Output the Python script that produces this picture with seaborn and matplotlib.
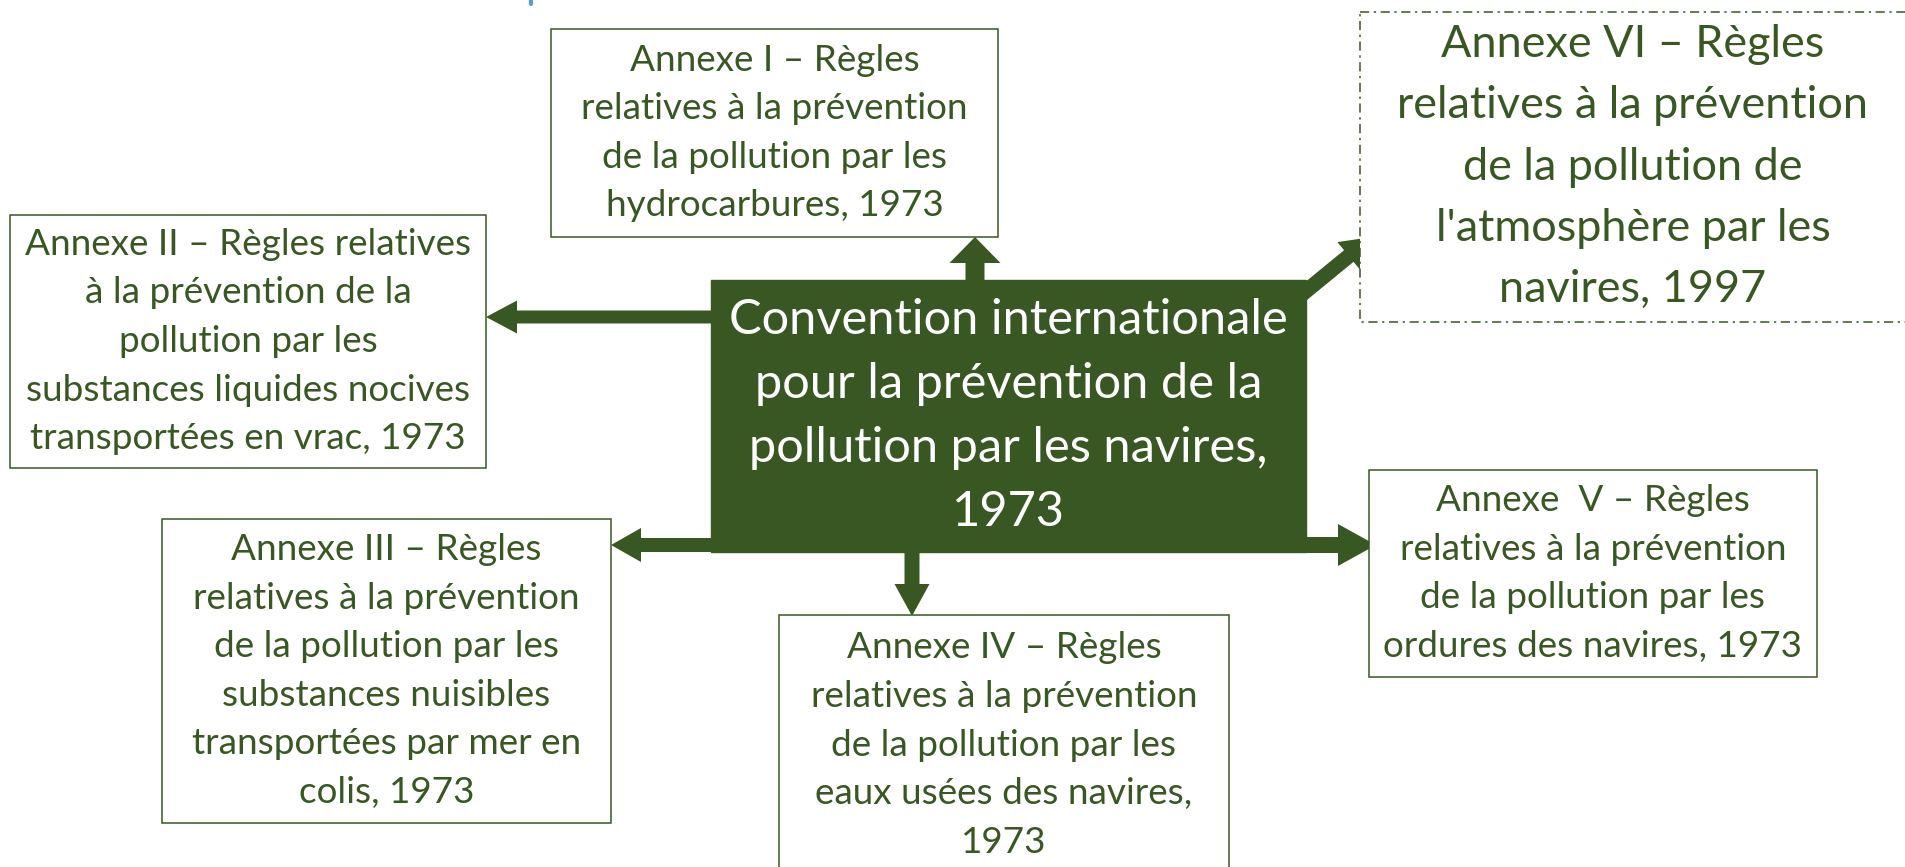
import matplotlib
matplotlib.use("Agg")
import matplotlib.pyplot as plt
import matplotlib.patches as mpatches
import seaborn as sns

# texts of the diagram
center_label = "Convention internationale\npour la prévention de la\npollution par les navires,\n1973"
annex_names = ["I", "II", "III", "IV", "V", "VI"]
annex_labels = [
    "Annexe I – Règles\nrelatives à la prévention\nde la pollution par les\nhydrocarbures, 1973",
    "Annexe II – Règles relatives\nà la prévention de la\npollution par les\nsubstances liquides nocives\ntransportées en vrac, 1973",
    "Annexe III – Règles\nrelatives à la prévention\nde la pollution par les\nsubstances nuisibles\ntransportées par mer en\ncolis, 1973",
    "Annexe IV – Règles\nrelatives à la prévention\nde la pollution par les\neaux usées des navires,\n1973",
    "Annexe  V – Règles\nrelatives à la prévention\nde la pollution par les\nordures des navires, 1973",
    "Annexe VI – Règles\nrelatives à la prévention\nde la pollution de\nl'atmosphère par les\nnavires, 1997",
]

# layout in pixels (x0, y0, x1, y1), y grows downward
center_box = (711, 280, 1306, 552)
annex_boxes = [
    (551, 29, 998, 237),
    (10, 215, 486, 468),
    (162, 519, 611, 823),
    (779, 615, 1229, 875),
    (1369, 470, 1817, 677),
    (1360, 12, 1915, 322),
]
# arrows: tail (x, y), tip (x, y), shaft width, head width, head length
arrows = [
    ((975, 280), (975, 237), 19, 51, 26),
    ((711, 317), (486, 317), 13, 33, 31),
    ((711, 545), (611, 545), 14, 34, 30),
    ((912, 552), (912, 616), 15, 35, 32),
    ((1306, 545), (1376, 545), 16, 42, 38),
    ((1300, 296), (1372, 237), 15, 36, 30),
]

green = "#385723"

sns.set_theme(style="white")
plt.rcParams["font.family"] = ["Lato", "DejaVu Sans"]

fig = plt.figure(figsize=(19.06, 8.67), dpi=100)
ax = fig.add_axes([0, 0, 1, 1])
ax.set_xlim(0, 1906)
ax.set_ylim(867, 0)
ax.axis("off")

# arrows first, boxes drawn over them
for (tx, ty), (hx, hy), sw, hw, hl in arrows:
    ax.add_patch(mpatches.FancyArrow(tx, ty, hx - tx, hy - ty, width=sw,
                                     head_width=hw, head_length=hl,
                                     length_includes_head=True,
                                     color=green, lw=0, zorder=1))

x0, y0, x1, y1 = center_box
ax.add_patch(mpatches.Rectangle((x0, y0), x1 - x0, y1 - y0, facecolor=green,
                                edgecolor=green, lw=1, zorder=2))
ax.text((x0 + x1) / 2, (y0 + y1) / 2, center_label, ha="center", va="center",
        color="white", fontsize=35.1, linespacing=1.55, zorder=3)

for name, label, (x0, y0, x1, y1) in zip(annex_names, annex_labels, annex_boxes):
    big = name == "VI"
    ax.add_patch(mpatches.Rectangle((x0, y0), x1 - x0, y1 - y0, facecolor="white",
                                    edgecolor=green, lw=1.1,
                                    linestyle=(0, (6, 3, 1.5, 3)) if big else "-",
                                    zorder=2))
    ax.text((x0 + x1) / 2 if not big else 1633, (y0 + y1) / 2, label,
            ha="center", va="center", color=green,
            fontsize=32.4 if big else 26.6,
            linespacing=1.61 if big else 1.58, zorder=3)

# small blue mark at the top edge
ax.plot([531, 531], [0, 4], color="#5B9BD5", lw=3)

fig.savefig("out.png", dpi=100)
